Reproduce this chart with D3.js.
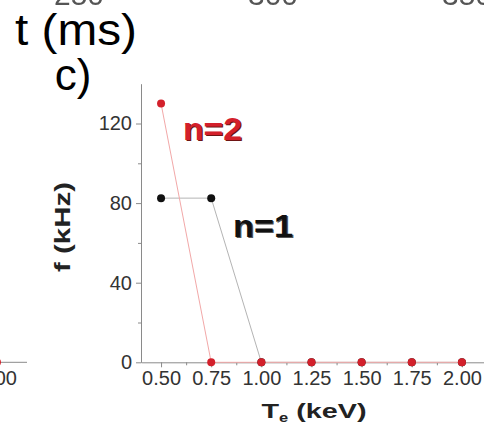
<!DOCTYPE html>
<html>
<head>
<meta charset="utf-8">
<script src="https://cdn.jsdelivr.net/npm/d3@7"></script>
<style>
  html, body { margin: 0; padding: 0; background: #fff; }
  svg { display: block; font-family: "Liberation Sans", Arial, sans-serif; }
</style>
</head>
<body>
<svg id="chart" width="484" height="433"></svg>
<script>
// Electron temperature steps (keV) and mode frequencies (kHz)
const temps = [0.50, 0.75, 1.00, 1.25, 1.50, 1.75, 2.00];
const freqN2 = [130, 0, 0, 0, 0, 0, 0];
const freqN1 = [82.5, 82.5, 0, 0, 0, 0, 0];
const xTickLabels = ["0.50", "0.75", "1.00", "1.25", "1.50", "1.75", "2.00"];
const yTicks = [0, 40, 80, 120];
const yMinorTicks = [20, 60, 100];
const xMinorTicks = [0.625, 0.875, 1.125, 1.375, 1.625, 1.875];

// Neighbouring panels: time axis above, previous temperature panel to the left
const timeTicks = [250, 300, 350];
const leftTemps = [2.00];
const leftFreq = [0];
const leftTickLabels = ["2.00"];

const svg = d3.select("#chart");

const x = d3.scaleLinear().domain([0.4, 2.12]).range([141, 486]);
const y = d3.scaleLinear().domain([0, 140]).range([362.3, 83.7]);

const axisGrey = "#8a8a8a";
const labelCol = "#333";
const red = "#d3202b";
const tickFont = 20;

// ---- time axis labels of the panel above (mostly clipped at the top) ----
const tScale = d3.scaleLinear().domain([250, 300]).range([79, 273]);
svg.append("g").selectAll("text").data(timeTicks).join("text")
  .attr("x", d => tScale(d)).attr("y", 5)
  .attr("text-anchor", "middle")
  .attr("font-size", 30).attr("fill", "#555")
  .style("filter", "blur(0.6px)")
  .text(d => d);

svg.append("text").attr("x", 76).attr("y", 45)
  .attr("text-anchor", "middle").attr("font-size", 44).attr("fill", "#000")
  .attr("textLength", 122).attr("lengthAdjust", "spacingAndGlyphs")
  .text("t (ms)");

svg.append("text").attr("x", 73).attr("y", 90)
  .attr("text-anchor", "middle").attr("font-size", 44).attr("fill", "#000")
  .text("c)");

// ---- left neighbour panel edge ----
const xl = d3.scaleLinear().domain([1.9, 2.1]).range([-33.1, 27]);
const leftAxis = d3.axisBottom(xl).tickValues(leftTemps)
  .tickFormat((d, i) => leftTickLabels[i]).tickSize(5).tickPadding(4);
const gl = svg.append("g").attr("transform", `translate(0,${y(0)})`).call(leftAxis);
gl.select(".domain").attr("stroke", axisGrey).attr("d", `M${xl(1.9)},0H${xl(2.1)}`);
gl.selectAll(".tick line").attr("stroke", axisGrey);
gl.selectAll(".tick text").attr("font-size", tickFont).attr("fill", labelCol)
  .attr("font-family", "Liberation Sans, Arial, sans-serif");
svg.append("g").selectAll("circle").data(leftTemps).join("circle")
  .attr("cx", d => xl(d)).attr("cy", (d, i) => y(leftFreq[i])).attr("r", 4)
  .attr("fill", red);

// ---- main panel axes ----
const xAxis = d3.axisBottom(x).tickValues(temps)
  .tickFormat((d, i) => xTickLabels[i]).tickSize(5).tickPadding(4).tickSizeOuter(0);
const gx = svg.append("g").attr("transform", `translate(0,${y(0)})`).call(xAxis);
gx.select(".domain").attr("stroke", axisGrey);
gx.selectAll(".tick line").attr("stroke", axisGrey);
gx.selectAll(".tick text").attr("font-size", tickFont).attr("fill", labelCol)
  .attr("font-family", "Liberation Sans, Arial, sans-serif");
svg.append("g").attr("transform", `translate(0,${y(0)})`)
  .call(d3.axisBottom(x).tickValues(xMinorTicks).tickSize(3).tickFormat(""))
  .call(g => g.select(".domain").remove())
  .selectAll("line").attr("stroke", axisGrey);

const yAxis = d3.axisLeft(y).tickValues(yTicks).tickSize(5).tickPadding(4).tickSizeOuter(0);
const gy = svg.append("g").attr("transform", `translate(${x(0.4)},0)`).call(yAxis);
gy.select(".domain").attr("stroke", axisGrey);
gy.selectAll(".tick line").attr("stroke", axisGrey);
gy.selectAll(".tick text").attr("font-size", tickFont).attr("fill", labelCol)
  .attr("font-family", "Liberation Sans, Arial, sans-serif");
svg.append("g").attr("transform", `translate(${x(0.4)},0)`)
  .call(d3.axisLeft(y).tickValues(yMinorTicks).tickSize(3).tickFormat(""))
  .call(g => g.select(".domain").remove())
  .selectAll("line").attr("stroke", axisGrey);

// axis titles
svg.append("text").attr("x", 314).attr("y", 418)
  .attr("text-anchor", "middle").attr("font-size", 21).attr("font-weight", "bold")
  .attr("fill", "#222")
  .attr("textLength", 105).attr("lengthAdjust", "spacingAndGlyphs")
  .call(t => {
    t.append("tspan").text("T");
    t.append("tspan").attr("font-size", 12).attr("dy", 4).text("e");
    t.append("tspan").attr("dy", -4).text(" (keV)");
  });

svg.append("text")
  .attr("transform", "translate(70,227) rotate(-90)")
  .attr("text-anchor", "middle").attr("font-size", 22).attr("font-weight", "bold")
  .attr("fill", "#222")
  .attr("textLength", 90).attr("lengthAdjust", "spacingAndGlyphs")
  .text("f (kHz)");

// ---- series ----
const line = d3.line().x(d => x(d[0])).y(d => y(d[1]));
const n1 = temps.map((t, i) => [t, freqN1[i]]);
const n2 = temps.map((t, i) => [t, freqN2[i]]);

svg.append("path").datum(n1).attr("d", line)
  .attr("fill", "none").attr("stroke", "#b4b4b4").attr("stroke-width", 1);
svg.append("path").datum(n2).attr("d", line)
  .attr("fill", "none").attr("stroke", "#f2a8a8").attr("stroke-width", 1);

svg.append("g").selectAll("circle").data(n1).join("circle")
  .attr("cx", d => x(d[0])).attr("cy", d => y(d[1])).attr("r", 4).attr("fill", "#111");
svg.append("g").selectAll("circle").data(n2).join("circle")
  .attr("cx", d => x(d[0])).attr("cy", d => y(d[1])).attr("r", 4).attr("fill", red);

// series labels
function seriesLabel(txt, cx, by, fill, shadow, width) {
  svg.append("text").attr("x", cx + 1.2).attr("y", by + 1.2)
    .attr("text-anchor", "middle").attr("font-size", 31).attr("font-weight", "bold")
    .attr("fill", shadow).attr("textLength", width).attr("lengthAdjust", "spacingAndGlyphs")
    .text(txt);
  svg.append("text").attr("x", cx).attr("y", by)
    .attr("text-anchor", "middle").attr("font-size", 31).attr("font-weight", "bold")
    .attr("fill", fill).attr("textLength", width).attr("lengthAdjust", "spacingAndGlyphs")
    .text(txt);
}
seriesLabel("n=2", 212.5, 140, red, "#6e1414", 59);
seriesLabel("n=1", 263, 237, "#111", "#555", 60);
</script>
</body>
</html>
